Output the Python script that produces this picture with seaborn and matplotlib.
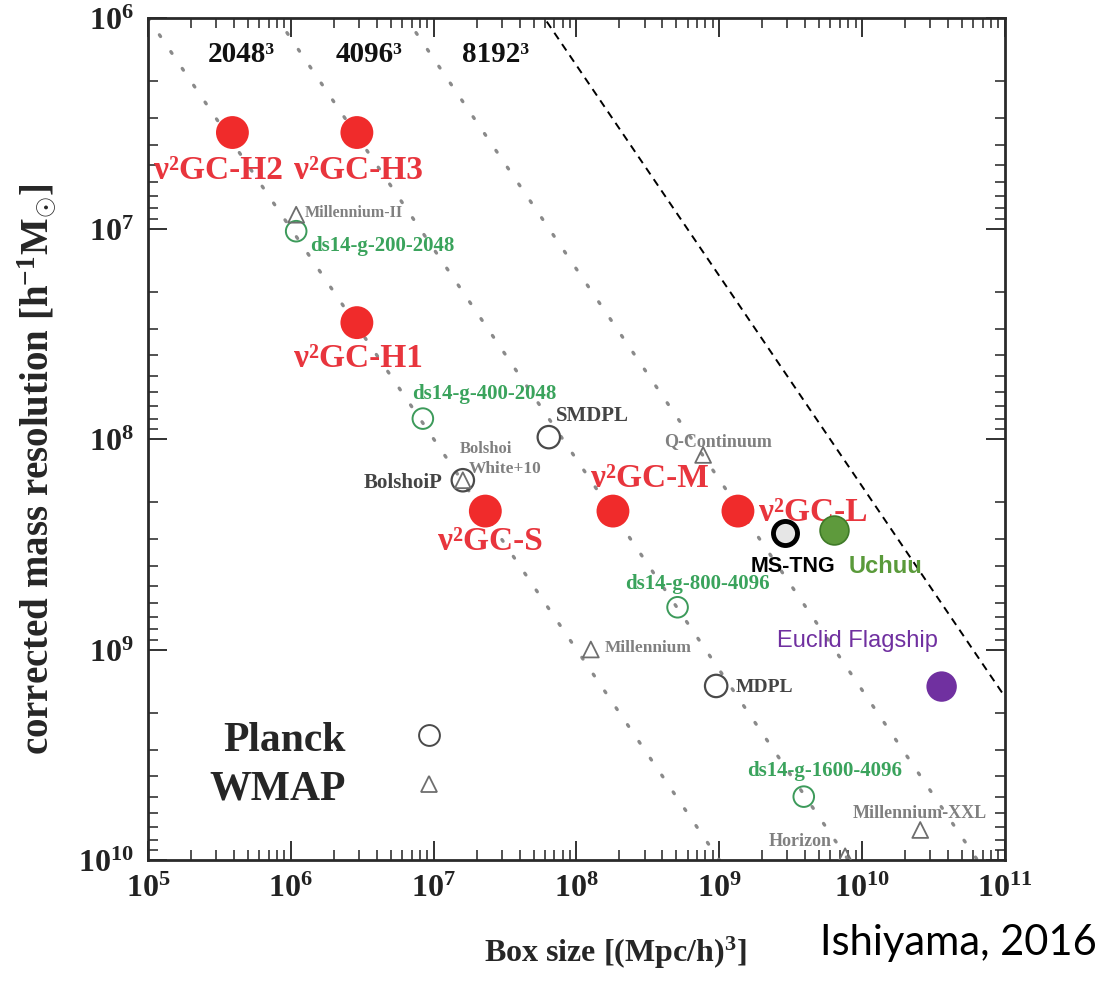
import numpy as np
import pandas as pd
import matplotlib
matplotlib.use("Agg")
import matplotlib.pyplot as plt
from matplotlib.lines import Line2D
import seaborn as sns

# ---------------- data ----------------
# nu2GC simulations (red filled)
nu_names = ["ν²GC-H2", "ν²GC-H3", "ν²GC-H1", "ν²GC-S", "ν²GC-M", "ν²GC-L"]
nu_box = [3.9e5, 2.9e6, 2.9e6, 2.3e7, 1.8e8, 1.35e9]
nu_mass = [3.5e6, 3.5e6, 2.8e7, 2.2e8, 2.2e8, 2.2e8]

# ds14 simulations (green open circles)
ds_names = ["ds14-g-200-2048", "ds14-g-400-2048", "ds14-g-800-4096", "ds14-g-1600-4096"]
ds_box = [1.09e6, 8.4e6, 5.1e8, 3.9e9]
ds_mass = [1.03e7, 8.0e7, 6.3e8, 5.0e9]

# Planck cosmology runs (gray open circles)
pl_names = ["BolshoiP", "SMDPL", "MDPL"]
pl_box = [1.6e7, 6.4e7, 9.5e8]
pl_mass = [1.57e8, 9.8e7, 1.49e9]

# WMAP cosmology runs (gray triangles)
wm_names = ["Millennium-II", "Bolshoi", "Q-Continuum", "Millennium", "Millennium-XXL", "Horizon"]
wm_box = [1.09e6, 1.6e7, 7.7e8, 1.26e8, 2.55e10, 7.6e9]
wm_mass = [8.6e6, 1.57e8, 1.19e8, 1.0e9, 7.2e9, 9.6e9]

# added simulations
new_names = ["MS-TNG", "Uchuu", "Euclid Flagship"]
new_box = [2.9e9, 6.3e9, 3.6e10]
new_mass = [2.8e8, 2.7e8, 1.5e9]

# constant particle-number lines: mass = coeff * box
line_labels = ["2048³", "4096³", "8192³"]
line_coeff = [10.0, 1.25, 0.156]
limit_coeff = 0.0168

xticks = [1e5, 1e6, 1e7, 1e8, 1e9, 1e10, 1e11]
xticklabels = [r"$\mathbf{10^{5}}$", r"$\mathbf{10^{6}}$", r"$\mathbf{10^{7}}$", r"$\mathbf{10^{8}}$",
               r"$\mathbf{10^{9}}$", r"$\mathbf{10^{10}}$", r"$\mathbf{10^{11}}$"]
yticks = [1e6, 1e7, 1e8, 1e9, 1e10]
yticklabels = [r"$\mathbf{10^{6}}$", r"$\mathbf{10^{7}}$", r"$\mathbf{10^{8}}$",
               r"$\mathbf{10^{9}}$", r"$\mathbf{10^{10}}$"]

# ---------------- style ----------------
sns.set_theme(style="ticks")
SERIF = "Liberation Serif"
plt.rcParams["font.family"] = [SERIF, "DejaVu Serif"]
plt.rcParams["mathtext.fontset"] = "custom"
plt.rcParams["mathtext.rm"] = SERIF
plt.rcParams["mathtext.bf"] = SERIF + ":bold"
plt.rcParams["mathtext.it"] = SERIF + ":italic"

fig = plt.figure(figsize=(11.12, 9.87), dpi=100)
ax = fig.add_axes([148 / 1112, 1 - 861 / 987, (1005 - 148) / 1112, (861 - 19) / 987])
ax.set_xscale("log")
ax.set_yscale("log")
ax.set_xlim(1e5, 1e11)
ax.set_ylim(1e10, 1e6)

# constant-N dotted lines
xs = np.array([1e5, 1e11])
for c in line_coeff:
    ln = pd.DataFrame({"x": xs, "y": c * xs})
    sns.lineplot(data=ln, x="x", y="y", ax=ax, color="#8a8a8a", lw=2.4,
                 linestyle=(0, (0.6, 5.5)), dash_capstyle="round", zorder=1)
lim = pd.DataFrame({"x": xs, "y": limit_coeff * xs})
sns.lineplot(data=lim, x="x", y="y", ax=ax, color="black", lw=1.4,
             linestyle=(0, (4, 3)), zorder=1)

red = "#f02b2b"
green_t = "#3aa35c"
gray_c = "#4a4a4a"
gray_t = "#6e6e6e"

df_nu = pd.DataFrame({"box": nu_box, "mass": nu_mass})
sns.scatterplot(data=df_nu, x="box", y="mass", ax=ax, s=560, color=red, edgecolor="none", zorder=3)

df_ds = pd.DataFrame({"box": ds_box, "mass": ds_mass})
sns.scatterplot(data=df_ds, x="box", y="mass", ax=ax, s=220, facecolor="none", edgecolor="#3c9a5a",
                linewidth=1.4, zorder=3)

df_pl = pd.DataFrame({"box": pl_box, "mass": pl_mass})
sns.scatterplot(data=df_pl, x="box", y="mass", ax=ax, s=260, facecolor="none", edgecolor=gray_c,
                linewidth=1.6, zorder=3)

df_wm = pd.DataFrame({"box": wm_box, "mass": wm_mass})
sns.scatterplot(data=df_wm, x="box", y="mass", ax=ax, s=130, marker="^", facecolor="none",
                edgecolor=gray_t, linewidth=1.3, zorder=3)

sns.scatterplot(x=[new_box[0]], y=[new_mass[0]], ax=ax, s=300, color="#e6e6e6", edgecolor="black",
                linewidth=3.5, zorder=4)
sns.scatterplot(x=[new_box[1]], y=[new_mass[1]], ax=ax, s=430, color="#5e9a3c", edgecolor="#3f7a28",
                linewidth=1.2, zorder=4)
sns.scatterplot(x=[new_box[2]], y=[new_mass[2]], ax=ax, s=480, color="#7030a0", edgecolor="none",
                zorder=4)

# ---------------- labels ----------------
def L(lx, ly):
    return 10 ** lx, 10 ** ly

kw_b = dict(ha="center", va="center", fontweight="bold", family=[SERIF, "DejaVu Serif"])
for lab, (lx, ly) in zip(line_labels, [(5.655, 6.17), (6.545, 6.17), (7.43, 6.17)]):
    ax.text(*L(lx, ly), lab, fontsize=21, color="#111111", **kw_b)

nu_pos = [(5.49, 6.72), (6.47, 6.72), (6.47, 7.615), (7.40, 8.48), (8.515, 8.185), (9.66, 8.345)]
for lab, (lx, ly) in zip(nu_names, nu_pos):
    ax.text(*L(lx, ly), lab, fontsize=24, color="#e8353d", **kw_b)

ds_pos = [(6.64, 7.078), (7.353, 7.781), (8.85, 8.684), (9.734, 9.572)]
for lab, (lx, ly) in zip(ds_names, ds_pos):
    ax.text(*L(lx, ly), lab, fontsize=15, color=green_t, **kw_b)

ax.text(*L(6.786, 8.204), "BolshoiP", fontsize=15, color="#444444", **kw_b)
ax.text(*L(8.109, 7.886), "SMDPL", fontsize=15, color="#444444", **kw_b)
ax.text(*L(9.314, 9.178), "MDPL", fontsize=14, color="#444444", **kw_b)

wm_pos = [(6.44, 6.92), (7.367, 8.043), (8.99, 8.005), (8.50, 8.99), (10.40, 9.772), (9.566, 9.905)]
wm_fs = [11.5, 12, 13, 12.5, 13, 13]
for lab, (lx, ly), fs in zip(wm_names, wm_pos, wm_fs):
    ax.text(*L(lx, ly), lab, fontsize=fs, color="#808080", **kw_b)
ax.text(*L(7.50, 8.138), "White+10", fontsize=12.5, color="#808080", **kw_b)

SANS = ["Liberation Sans", "DejaVu Sans"]
ax.text(*L(9.517, 8.603), new_names[0], fontsize=15.5, color="black", ha="center", va="center",
        fontweight="bold", family=SANS)
ax.text(*L(10.161, 8.603), new_names[1], fontsize=17, color="#5a9a3a", ha="center", va="center",
        fontweight="bold", family=SANS)
ax.text(*L(9.965, 8.955), new_names[2], fontsize=17, color="#7030a0", ha="center", va="center",
        family=SANS)

# legend
handles = [Line2D([], [], marker="o", ls="none", mfc="none", mec=gray_c, mew=1.4, ms=15),
           Line2D([], [], marker="^", ls="none", mfc="none", mec=gray_t, mew=1.3, ms=12)]
leg = ax.legend(handles, ["Planck", "WMAP"], loc="center left", bbox_to_anchor=(0.028, 0.114),
                frameon=False, markerfirst=False, handlelength=1.0, handletextpad=1.5,
                labelspacing=0.25, borderpad=0.4, prop={"family": SERIF, "weight": "bold", "size": 30})

# axes formatting
ax.set_xticks(xticks)
ax.set_xticklabels(xticklabels, fontsize=23)
ax.set_yticks(yticks)
ax.set_yticklabels(yticklabels, fontsize=23)
ax.tick_params(which="major", direction="in", length=14, width=1.3, top=True, right=True,
               pad=10, colors="#222222")
ax.tick_params(which="minor", direction="in", length=7, width=1.1, top=True, right=True,
               colors="#222222")
for sp in ax.spines.values():
    sp.set_linewidth(2.0)
    sp.set_color("#2a2a2a")

ax.set_xlabel(r"Box size [(Mpc/h)$^{\mathbf{3}}$]", fontsize=23, fontweight="bold")
ax.set_ylabel(r"corrected mass resolution [h$^{\mathbf{-1}}$M$_{\odot}$]", fontsize=28,
              fontweight="bold")
ax.xaxis.set_label_coords(0.545, -0.088)
ax.yaxis.set_label_coords(-0.105, 0.465)

fig.text(958 / 1112, 1 - 943 / 987, "Ishiyama, 2016", fontsize=30, ha="center", va="center",
         family=["Lato", "DejaVu Sans"], color="black")

fig.savefig("out.png", dpi=100, facecolor="white")
